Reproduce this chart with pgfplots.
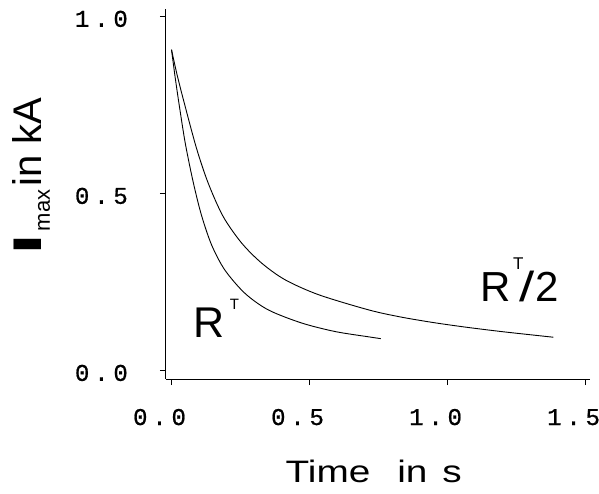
\documentclass[border=0pt]{standalone}
\usepackage{fontspec}
\setmainfont{Liberation Sans}
\usepackage{graphicx}
\usepackage{pgfplots}
\pgfplotsset{compat=1.18}
\newfontfamily\monofont[LetterSpace=20, FakeBold=0.8]{Liberation Mono}
\newfontfamily\labfont[FakeStretch=1.25]{Liberation Sans}

\begin{document}
\begin{tikzpicture}
\path[use as bounding box] (-166pt,-114pt) rectangle (433pt,379pt);
\begin{axis}[
    at={(0,0)}, anchor=south west,
    scale only axis,
    width=424pt, height=370pt,
    xmin=-0.02, xmax=1.516,
    ymin=-0.023, ymax=1.022,
    axis x line*=bottom, axis y line*=left,
    axis line style={-, line width=1pt},
    tick align=outside,
    major tick length=6pt,
    tick style={black, line width=0.8pt},
    xtick={0,0.5,1,1.5}, xticklabels={0.0,0.5,1.0,1.5},
    ytick={0,0.5,1}, yticklabels={0.0,0.5,1.0},
    xticklabel style={font=\monofont\fontsize{24}{24}\selectfont, inner sep=0pt, anchor=base, yshift=-40pt, xshift=-12pt},
    yticklabel style={font=\monofont\fontsize{24}{24}\selectfont, inner sep=0pt, anchor=base east, xshift=-32pt, yshift=-10pt},
    xlabel={\labfont\fontsize{31}{31}\selectfont Time\hspace{27pt}in\hspace{15pt}s},
    xlabel style={at={(axis description cs:0.490,-0.281)}, anchor=base, inner sep=0pt},
    ylabel={\fontsize{40}{40}\selectfont\scalebox{1.8}[1]{\textbf{I}}\hspace{3pt}\raisebox{-8pt}{\fontsize{22}{22}\selectfont max}\hspace{3pt}in kA},
    ylabel style={at={(axis description cs:-0.2925,0.549)}, anchor=base, inner sep=0pt},
]
% R^T
\addplot[black, line width=0.9pt, smooth] coordinates {
(0.0,0.907) (0.013,0.83) (0.028,0.75) (0.05,0.642) (0.078,0.535) (0.108,0.441)
(0.145,0.356) (0.193,0.285) (0.266,0.219) (0.351,0.172) (0.472,0.135) (0.593,0.111)
(0.715,0.096) (0.758,0.091)};
% R^T/2
\addplot[black, line width=0.9pt, smooth] coordinates {
(0.0,0.907) (0.019,0.84) (0.043,0.766) (0.090,0.630) (0.133,0.530) (0.187,0.436)
(0.254,0.361) (0.327,0.304) (0.412,0.257) (0.533,0.215) (0.715,0.172) (0.831,0.152)
(0.952,0.136) (1.07,0.123) (1.195,0.111) (1.30,0.102) (1.383,0.095)};
\node[anchor=base west, inner sep=0pt, font=\fontsize{43}{43}\selectfont] at (axis cs:0.08,0.093)
  {R\hspace{5pt}\raisebox{28pt}{\fontsize{15}{15}\selectfont T}};
\node[anchor=base west, inner sep=0pt, font=\fontsize{42}{42}\selectfont] at (axis cs:1.12,0.195)
  {R\hspace{2pt}\rlap{\raisebox{32pt}{\fontsize{17}{17}\selectfont T}}\hspace{6pt}\scalebox{1.3}[1]{/}\hspace{1pt}2};
\end{axis}
\end{tikzpicture}
\end{document}
